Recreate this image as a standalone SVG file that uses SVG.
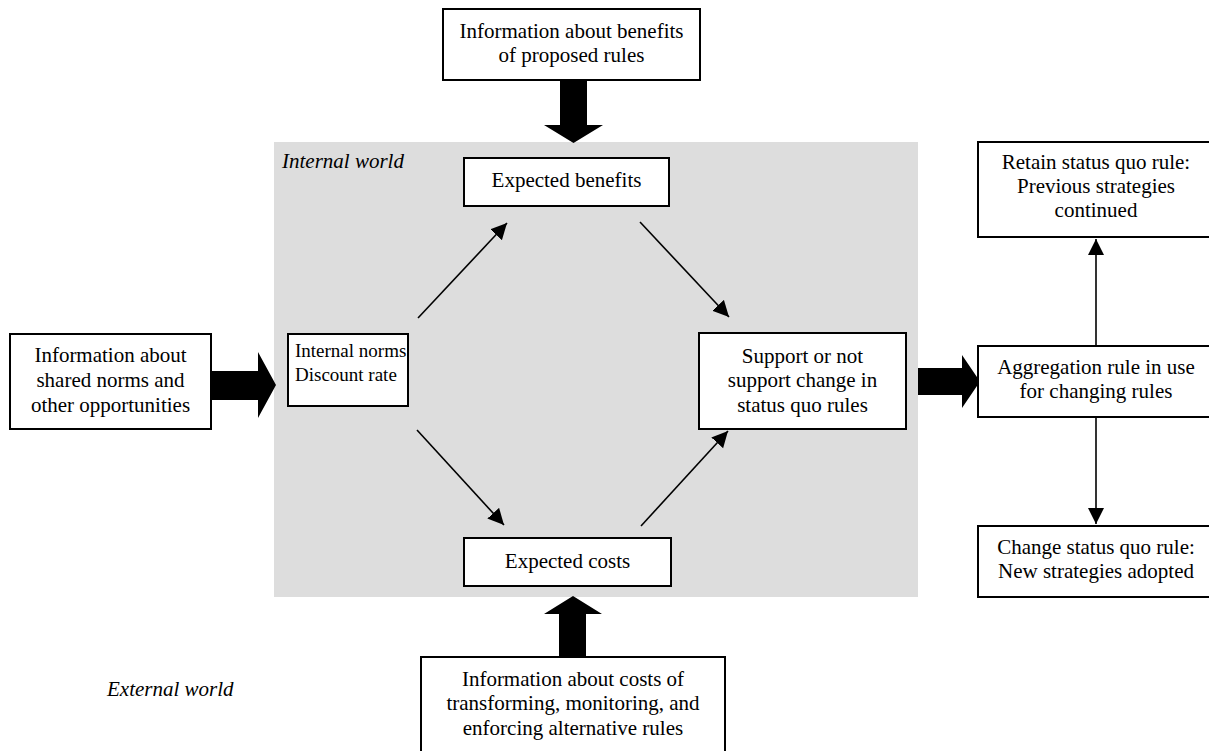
<svg xmlns="http://www.w3.org/2000/svg" width="1209" height="751" viewBox="0 0 1209 751">
<style>
.box{fill:#fff;stroke:#000;stroke-width:2}
.t{font-family:"Liberation Serif","Times New Roman",serif;font-size:21px;fill:#000;text-anchor:middle}
.ts{font-family:"Liberation Serif","Times New Roman",serif;font-size:19px;fill:#000}
.it{font-family:"Liberation Serif","Times New Roman",serif;font-size:21px;font-style:italic;fill:#000}
.ln{stroke:#000;stroke-width:1.6;fill:none;marker-end:url(#ah)}
.fat{fill:#000}
</style>
<defs>
<marker id="ah" markerUnits="userSpaceOnUse" markerWidth="18" markerHeight="18" refX="16" refY="8" orient="auto">
<path d="M0,0 L16,8 L0,16 Z" fill="#000"/>
</marker>
</defs>
<rect x="0" y="0" width="1209" height="751" fill="#fff"/>
<rect id="internal-world" x="274" y="142" width="644" height="455" fill="#dddddd"/>
<text class="it" x="282" y="168">Internal world</text>
<text class="it" x="107" y="696">External world</text>

<g id="connectors">
<polygon class="fat" points="560,80 587,80 587,125 603,125 573.5,143 544,125 560,125"/>
<polygon class="fat" points="559,657 586,657 586,614 602,614 573,596 544,614 559,614"/>
<polygon class="fat" points="211,371 258,371 258,352 276,385 258,418 258,400 211,400"/>
<polygon class="fat" points="918,368 962,368 962,355 980,381.5 962,408 962,395 918,395"/>
<line class="ln" x1="418" y1="318" x2="507" y2="223"/>
<line class="ln" x1="640" y1="222" x2="729" y2="317"/>
<line class="ln" x1="417" y1="430" x2="504" y2="525"/>
<line class="ln" x1="641" y1="526" x2="728" y2="431"/>
<line class="ln" x1="1096" y1="346" x2="1096" y2="239"/>
<line class="ln" x1="1096" y1="417" x2="1096" y2="524"/>
</g>

<g id="info-benefits">
<rect class="box" x="443" y="9" width="257" height="71"/>
<text class="t" x="571.5" y="38">Information about benefits</text>
<text class="t" x="571.5" y="62">of proposed rules</text>
</g>
<g id="expected-benefits">
<rect class="box" x="464" y="158" width="205" height="48"/>
<text class="t" x="566.5" y="187">Expected benefits</text>
</g>
<g id="info-norms">
<rect class="box" x="10" y="334" width="201" height="95"/>
<text class="t" x="110.5" y="362">Information about</text>
<text class="t" x="110.5" y="387">shared norms and</text>
<text class="t" x="110.5" y="412">other opportunities</text>
</g>
<g id="internal-norms">
<rect class="box" x="288" y="334" width="120" height="72"/>
<text class="ts" x="295" y="357">Internal norms</text>
<text class="ts" x="295" y="381">Discount rate</text>
</g>
<g id="support">
<rect class="box" x="699" y="333" width="207" height="96"/>
<text class="t" x="802.5" y="363">Support or not</text>
<text class="t" x="802.5" y="387">support change in</text>
<text class="t" x="802.5" y="412">status quo rules</text>
</g>
<g id="expected-costs">
<rect class="box" x="464" y="538" width="207" height="48"/>
<text class="t" x="567.5" y="568">Expected costs</text>
</g>
<g id="info-costs">
<rect class="box" x="421" y="657" width="304" height="104"/>
<text class="t" x="573" y="686">Information about costs of</text>
<text class="t" x="573" y="710">transforming, monitoring, and</text>
<text class="t" x="573" y="735">enforcing alternative rules</text>
</g>
<g id="retain">
<rect class="box" x="978" y="142" width="236" height="95"/>
<text class="t" x="1096" y="169">Retain status quo rule:</text>
<text class="t" x="1096" y="193">Previous strategies</text>
<text class="t" x="1096" y="217">continued</text>
</g>
<g id="aggregation">
<rect class="box" x="978" y="346" width="236" height="71"/>
<text class="t" x="1096" y="374">Aggregation rule in use</text>
<text class="t" x="1096" y="398">for changing rules</text>
</g>
<g id="change">
<rect class="box" x="978" y="526" width="236" height="71"/>
<text class="t" x="1096" y="554">Change status quo rule:</text>
<text class="t" x="1096" y="578">New strategies adopted</text>
</g>
</svg>
